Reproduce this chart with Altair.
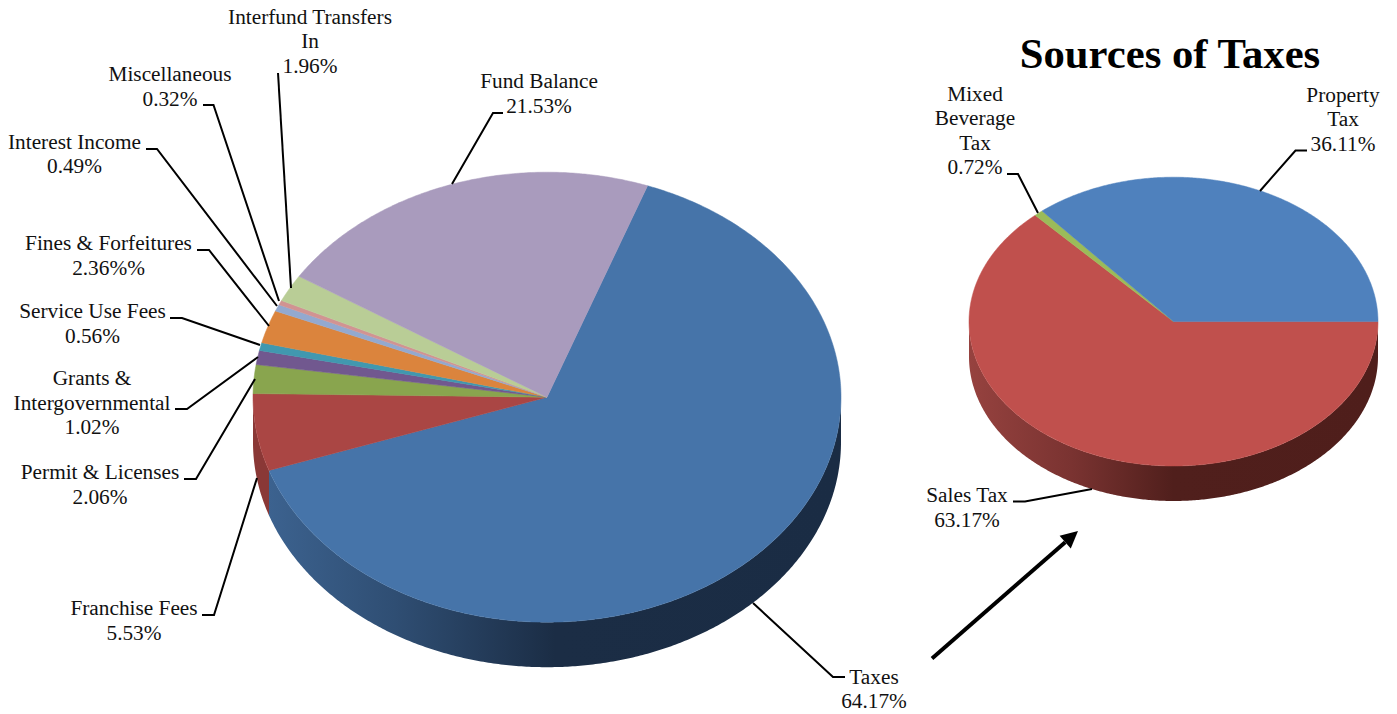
import math
import altair as alt
import numpy as np
import pandas as pd

# ---------- chart values ----------
main_names = ["Taxes", "Franchise Fees", "Permit & Licenses", "Grants & Intergovernmental",
              "Service Use Fees", "Fines & Forfeitures", "Interest Income", "Miscellaneous",
              "Interfund Transfers In", "Fund Balance"]
main_values = [64.17, 5.53, 2.06, 1.02, 0.56, 2.36, 0.49, 0.32, 1.96, 21.53]
main_colors = ["#4674A9", "#AA4644", "#89A54E", "#71588F", "#4198AF",
               "#DB843D", "#93A9CF", "#D19392", "#B9CD96", "#A99BBD"]

tax_names = ["Sales Tax", "Mixed Beverage Tax", "Property Tax"]
tax_values = [63.17, 0.72, 36.11]
tax_colors = ["#C0504D", "#9BBB59", "#4F81BD"]

# ---------- pie layout ----------
MAIN = dict(cx=547, cy=397.2, rx=294, ry=225, depth=45, start=20)
TAX = dict(cx=1173.5, cy=321.6, rx=204.5, ry=144.4, depth=35, start=90)


def arc(p, a, b, dy=0.0, step=0.5):
    n = max(2, int(abs(b - a) / step) + 1)
    t = np.radians(np.linspace(a, b, n))
    return [[float(p["cx"] + p["rx"] * np.sin(v)),
             float(p["cy"] - p["ry"] * np.cos(v) + dy)] for v in t]


def slices(p, values, colors):
    feats, walls = [], []
    a = p["start"]
    total = sum(values)
    for v, c in zip(values, colors):
        b = a + v / total * 360
        ring = [[p["cx"], p["cy"]]] + arc(p, a, b) + [[p["cx"], p["cy"]]]
        feats.append({"type": "Feature", "properties": {"fill": c},
                      "geometry": {"type": "Polygon", "coordinates": [ring]}})
        lo, hi = max(a, 90), min(b, 270)
        if hi > lo:
            wall = arc(p, lo, hi) + arc(p, hi, lo, dy=p["depth"])
            wall.append(wall[0])
            walls.append({"type": "Feature", "properties": {"fill": c},
                          "geometry": {"type": "Polygon", "coordinates": [wall]}})
        a = b
    return feats, walls


main_top, main_walls = slices(MAIN, main_values, main_colors)
tax_top, tax_walls = slices(TAX, tax_values, tax_colors)

PROJ = dict(type="identity", scale=1, translate=[-8, -8])


def grad(*stops):
    return alt.LinearGradient(
        gradient="linear", x1=0, x2=1, y1=0, y2=0,
        stops=[alt.GradientStop(offset=o, color=c) for o, c in stops])


def wall_layer(feature, fill):
    return alt.Chart(alt.Data(values=[feature])).mark_geoshape(fill=fill, strokeWidth=0).project(**PROJ)


wall_layers = [
    wall_layer(main_walls[0], grad((0, "#3C628F"), (0.22, "#2F4E73"), (0.5, "#1B2D45"), (1, "#1A2C44"))),
    wall_layer(main_walls[1], "#8A3836"),
    wall_layer(tax_walls[0], grad((0, "#96423F"), (0.25, "#7A3331"), (0.5, "#501F1C"), (1, "#4F1E1B"))),
]

top_layer = (
    alt.Chart(alt.Data(values=main_top + tax_top))
    .mark_geoshape(strokeWidth=0.5)
    .encode(color=alt.Color("properties.fill:N", scale=None),
            stroke=alt.Stroke("properties.fill:N", scale=None))
    .project(**PROJ)
)

# ---------- labels: (centre x, baseline y, text) ----------
labels = [
    (310, 24, "Interfund Transfers"), (310, 48, "In"), (310, 72.5, "1.96%"),
    (170, 81, "Miscellaneous"), (170, 105.5, "0.32%"),
    (74.5, 148.5, "Interest Income"), (74.5, 173, "0.49%"),
    (108.5, 250, "Fines & Forfeitures"), (108.5, 274.5, "2.36%%"),
    (92.5, 318, "Service Use Fees"), (92.5, 343, "0.56%"),
    (92, 385, "Grants &"), (92, 410, "Intergovernmental"), (92, 434, "1.02%"),
    (100, 479, "Permit & Licenses"), (100, 503.5, "2.06%"),
    (134, 615, "Franchise Fees"), (134, 640, "5.53%"),
    (874, 684, "Taxes"), (874, 708, "64.17%"),
    (539, 88, "Fund Balance"), (539, 113, "21.53%"),
    (1343, 102, "Property"), (1343, 126, "Tax"), (1343, 151, "36.11%"),
    (975, 100.5, "Mixed"), (975, 125, "Beverage"), (975, 150, "Tax"), (975, 174, "0.72%"),
    (967, 502, "Sales Tax"), (967, 526.5, "63.17%"),
]
label_df = pd.DataFrame(labels, columns=["x", "y", "text"])

X = alt.X("x:Q", scale=alt.Scale(domain=[8, 1389]), axis=None)
Y = alt.Y("y:Q", scale=alt.Scale(domain=[714, 8]), axis=None)

text_layer = alt.Chart(label_df).mark_text(
    font="Liberation Serif", fontSize=21.3, align="center", baseline="alphabetic", color="#111111"
).encode(x=X, y=Y, text="text:N")

title_layer = alt.Chart(pd.DataFrame({"x": [1170], "y": [68], "text": ["Sources of Taxes"]})).mark_text(
    font="Liberation Serif", fontSize=42.7, fontWeight="bold", align="center", baseline="alphabetic", color="#000000"
).encode(x=X, y=Y, text="text:N")

# ---------- leader lines ----------
leaders = {
    "interfund": [(278, 73), (291, 288)],
    "misc": [(203, 105), (213.5, 105), (279, 301)],
    "interest": [(146, 149), (157, 149), (277, 306)],
    "fines": [(197, 250), (209, 250), (269, 326)],
    "service": [(170, 318), (182, 318), (260, 345)],
    "grants": [(175, 409), (187, 409), (258, 357)],
    "permit": [(184, 479), (196, 479), (255, 379)],
    "franchise": [(202, 615), (214, 615), (257, 478)],
    "taxes": [(753, 603), (833, 677), (845, 677)],
    "fund": [(452, 184), (493, 113), (503, 113)],
    "property": [(1260, 191), (1295.5, 150.5), (1307, 150.5)],
    "mixed": [(1007, 174), (1018, 174), (1038, 213)],
    "sales": [(1013, 501.5), (1025, 501.5), (1092, 489)],
}
rows = [{"id": k, "i": i, "x": x, "y": y} for k, pts in leaders.items() for i, (x, y) in enumerate(pts)]
leader_layer = alt.Chart(pd.DataFrame(rows)).mark_line(color="#000000", strokeWidth=2).encode(
    x=X, y=Y, detail="id:N", order="i:Q")

# ---------- arrow ----------
arrow_from, arrow_to = (932, 658.5), (1078, 531)
L = math.hypot(arrow_to[0] - arrow_from[0], arrow_to[1] - arrow_from[1])
ux, uy = (arrow_to[0] - arrow_from[0]) / L, (arrow_to[1] - arrow_from[1]) / L
head_len, head_half = 17, 8.5
base = (arrow_to[0] - ux * head_len, arrow_to[1] - uy * head_len)
arrow_shaft = alt.Chart(pd.DataFrame({"x": [arrow_from[0], base[0]], "y": [arrow_from[1], base[1]], "i": [0, 1]})).mark_line(
    color="#000000", strokeWidth=4).encode(x=X, y=Y, order="i:Q")
head = [list(arrow_to), [base[0] - uy * head_half, base[1] + ux * head_half],
        [base[0] + uy * head_half, base[1] - ux * head_half], list(arrow_to)]
arrow_head = alt.Chart(alt.Data(values=[{"type": "Feature", "properties": {},
                                         "geometry": {"type": "Polygon", "coordinates": [head]}}])
                       ).mark_geoshape(fill="#000000", strokeWidth=0).project(**PROJ)

chart = alt.layer(
    *wall_layers, top_layer, leader_layer, arrow_shaft, arrow_head, text_layer, title_layer
).properties(width=1381, height=706, padding=0, autosize=alt.AutoSizeParams(type="none"), background="#FFFFFF"
).configure_view(stroke=None)

chart.save("out.html", embed_options={"renderer": "svg", "actions": False})
